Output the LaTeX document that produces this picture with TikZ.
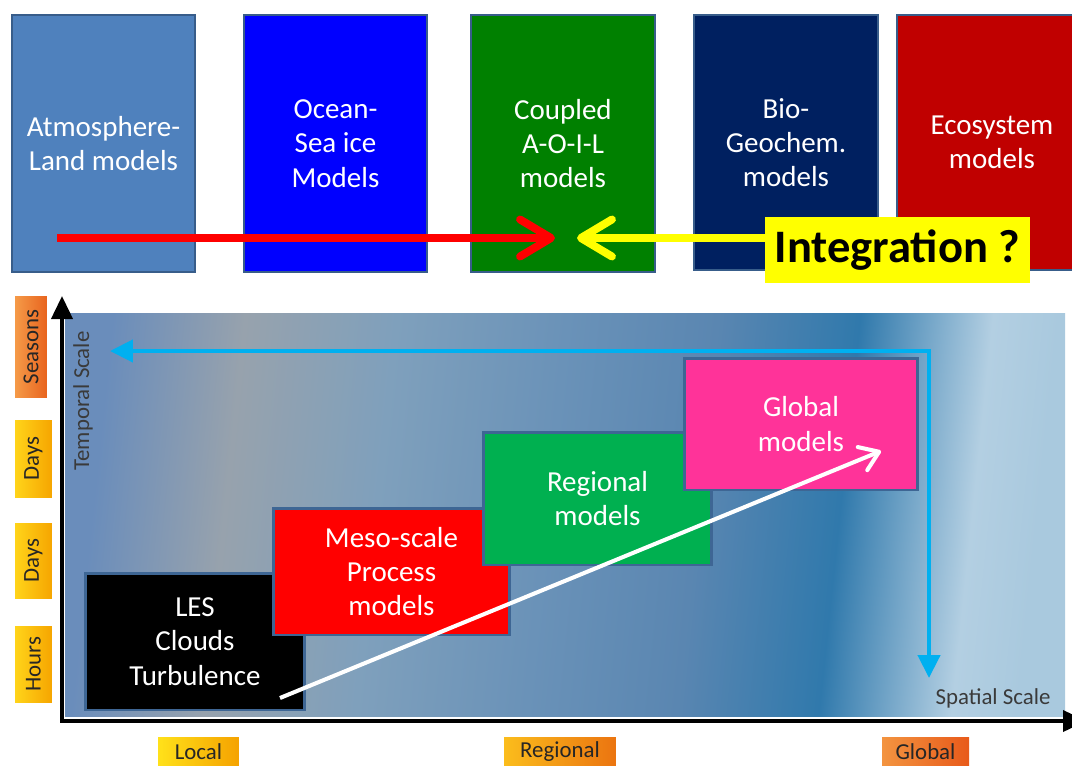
\documentclass[tikz,border=0pt]{standalone}
\usepackage{fontspec}
\setmainfont{Carlito}
\usetikzlibrary{arrows.meta,positioning}

\definecolor{atmblue}{HTML}{4F81BD}
\definecolor{oceanblue}{HTML}{0000FF}
\definecolor{coupledgreen}{HTML}{008000}
\definecolor{bionavy}{HTML}{002060}
\definecolor{ecored}{HTML}{C00000}
\definecolor{edgeblue}{HTML}{385D8A}
\definecolor{boxedge}{HTML}{3E6694}
\definecolor{regiongreen}{HTML}{00B050}
\definecolor{globalpink}{HTML}{FF3399}
\definecolor{scalecyan}{HTML}{00B0F0}
\definecolor{intyellow}{HTML}{FFFF00}
\definecolor{labeltext}{HTML}{3A3A3A}
\definecolor{seasondark}{HTML}{E8641E}
\definecolor{seasonlight}{HTML}{F59A48}
\definecolor{dayorange}{HTML}{F6A500}
\definecolor{dayyellow}{HTML}{FFD41A}
\definecolor{localyellow}{HTML}{FFE11A}
\definecolor{localorange}{HTML}{F5A200}
\definecolor{regleft}{HTML}{FBBD1C}
\definecolor{regright}{HTML}{EB7410}
\definecolor{globleft}{HTML}{F39440}
\definecolor{globright}{HTML}{E85A1A}
\definecolor{bgA}{HTML}{6A8DBB}
\definecolor{bgB}{HTML}{97A2AD}
\definecolor{bgC}{HTML}{7FA0BC}
\definecolor{bgD}{HTML}{6A92B8}
\definecolor{bgE}{HTML}{5A86B1}
\definecolor{bgF}{HTML}{3079AC}
\definecolor{bgG}{HTML}{B3CFE2}
\definecolor{bgH}{HTML}{A9C9DE}

\pgfdeclarehorizontalshading{skyband}{100bp}{color(0bp)=(bgA); color(25bp)=(bgA);
  color(32bp)=(bgB); color(40bp)=(bgC); color(49bp)=(bgD); color(57bp)=(bgE);
  color(64.5bp)=(bgF); color(71.5bp)=(bgG); color(75bp)=(bgH); color(100bp)=(bgH)}

\begin{document}
\begin{tikzpicture}[x=0.02cm,y=-0.02cm,
  topbox/.style={draw=edgeblue,line width=1pt,text=white,align=center,inner sep=0pt,
    font=\fontsize{16.5}{19.5}\selectfont,minimum width=3.66cm,minimum height=5.14cm},
  modelbox/.style={draw=boxedge,line width=1.7pt,text=white,align=center,inner sep=0pt,
    font=\fontsize{16.5}{19.5}\selectfont},
  tag/.style={inner sep=0pt,text=black!85,font=\fontsize{13}{15}\selectfont},
  scalelabel/.style={inner sep=0pt,text=labeltext,font=\fontsize{13}{15}\selectfont},
  redarrow/.style={red,line width=4.5pt,-{Straight Barb[length=0.62cm,width=0.74cm,round]}},
  yelarrow/.style={intyellow,line width=4.5pt,-{Straight Barb[length=0.62cm,width=0.74cm,round]}},
  axis/.style={black,line width=2.2pt,{Triangle[length=0.46cm,width=0.42cm]}-{Triangle[length=0.46cm,width=0.42cm]}},
  cyanarrow/.style={scalecyan,line width=2.5pt,{Triangle[length=0.46cm,width=0.44cm]}-{Triangle[length=0.46cm,width=0.44cm]}},
  whitearrow/.style={white,line width=2.3pt,-{Straight Barb[length=0.36cm,width=0.5cm,round]}}]
\useasboundingbox (0,0) rectangle (1072,765);

\node[topbox,fill=atmblue] (atm) at (103.5,143.5) {Atmosphere-\\Land models};
\node[topbox,fill=oceanblue] (ocean) at (335.5,143.5) {Ocean-\\Sea ice\\Models};
\node[topbox,fill=coupledgreen,minimum width=3.68cm] (aoil) at (563,143.5) {Coupled\\A-O-I-L\\models};
\node[topbox,fill=bionavy,minimum width=3.68cm,minimum height=5.1cm] (bgc) at (786,142.5) {Bio-\\Geochem.\\models};
\node[topbox,fill=ecored,minimum width=3.8cm,minimum height=5.1cm] (eco) at (992,142.5) {Ecosystem\\models};

\coordinate (redstart) at (57,238);
\coordinate (redtip) at (555,238);
\coordinate (yeltip) at (577,238);
\draw[redarrow] (redstart) -- (redtip);
\node[fill=intyellow,minimum width=5.3cm,minimum height=1.32cm,inner sep=0pt,
  font=\bfseries\fontsize{26.5}{30}\selectfont] (integ) at (897.5,250) {Integration ?};
\draw[yelarrow] (integ.west |- yeltip) -- (yeltip);

\shade[shading=skyband,shading angle=-6] (65,313) rectangle (1065,716);
\coordinate (ttop) at (62,296);
\coordinate (origin) at (62,721);
\coordinate (send) at (1086,721);
\draw[axis] (ttop) -- (origin) -- (send);

\node[scalelabel,rotate=90] (tscale) at (83,401) {Temporal Scale};
\node[scalelabel] (sscale) at (993,698) {Spatial Scale};

\coordinate (cyanleft) at (110,351);
\coordinate (cyancorner) at (929,351);
\coordinate (cyandown) at (929,678);
\draw[cyanarrow] (cyanleft) -- (cyancorner) -- (cyandown);

\node[modelbox,fill=black,minimum width=4.4cm,minimum height=2.74cm] (les) at (195,641.5) {LES\\Clouds\\Turbulence};
\node[modelbox,fill=red,minimum width=4.74cm,minimum height=2.54cm] (meso) at (391.5,571.5) {Meso-scale\\Process\\models};
\node[modelbox,fill=regiongreen,minimum width=4.58cm,minimum height=2.66cm] (regional) at (597.5,498.5) {Regional\\models};
\node[modelbox,fill=globalpink,minimum width=4.68cm,minimum height=2.64cm] (global) at (801,424) {Global\\models};

\coordinate (wstart) at (280,698);
\coordinate (wtip) at (881,451);
\draw[whitearrow] (wstart) -- (wtip);

\node[tag,rotate=90,left color=seasonlight,right color=seasondark,minimum width=2.04cm,minimum height=0.64cm] (seasons) at (31,347) {Seasons};
\node[tag,rotate=90,left color=dayyellow,right color=dayorange,minimum width=1.54cm,minimum height=0.74cm] (dayshi) at (33.5,458.5) {Days};
\node[tag,rotate=90,left color=dayyellow,right color=dayorange,minimum width=1.5cm,minimum height=0.74cm] (dayslo) at (33.5,560.5) {Days};
\node[tag,rotate=90,left color=dayyellow,right color=dayorange,minimum width=1.52cm,minimum height=0.74cm] (hours) at (33.5,664) {Hours};

\node[tag,left color=localyellow,right color=localorange,minimum width=1.62cm,minimum height=0.6cm] (local) at (198.5,752) {Local};
\node[tag,left color=regleft,right color=regright,minimum width=2.24cm,minimum height=0.6cm] (regionaltag) at (560,752) {Regional};
\node[tag,left color=globleft,right color=globright,minimum width=1.74cm,minimum height=0.6cm] (globaltag) at (925.5,752) {Global};
\end{tikzpicture}
\end{document}
